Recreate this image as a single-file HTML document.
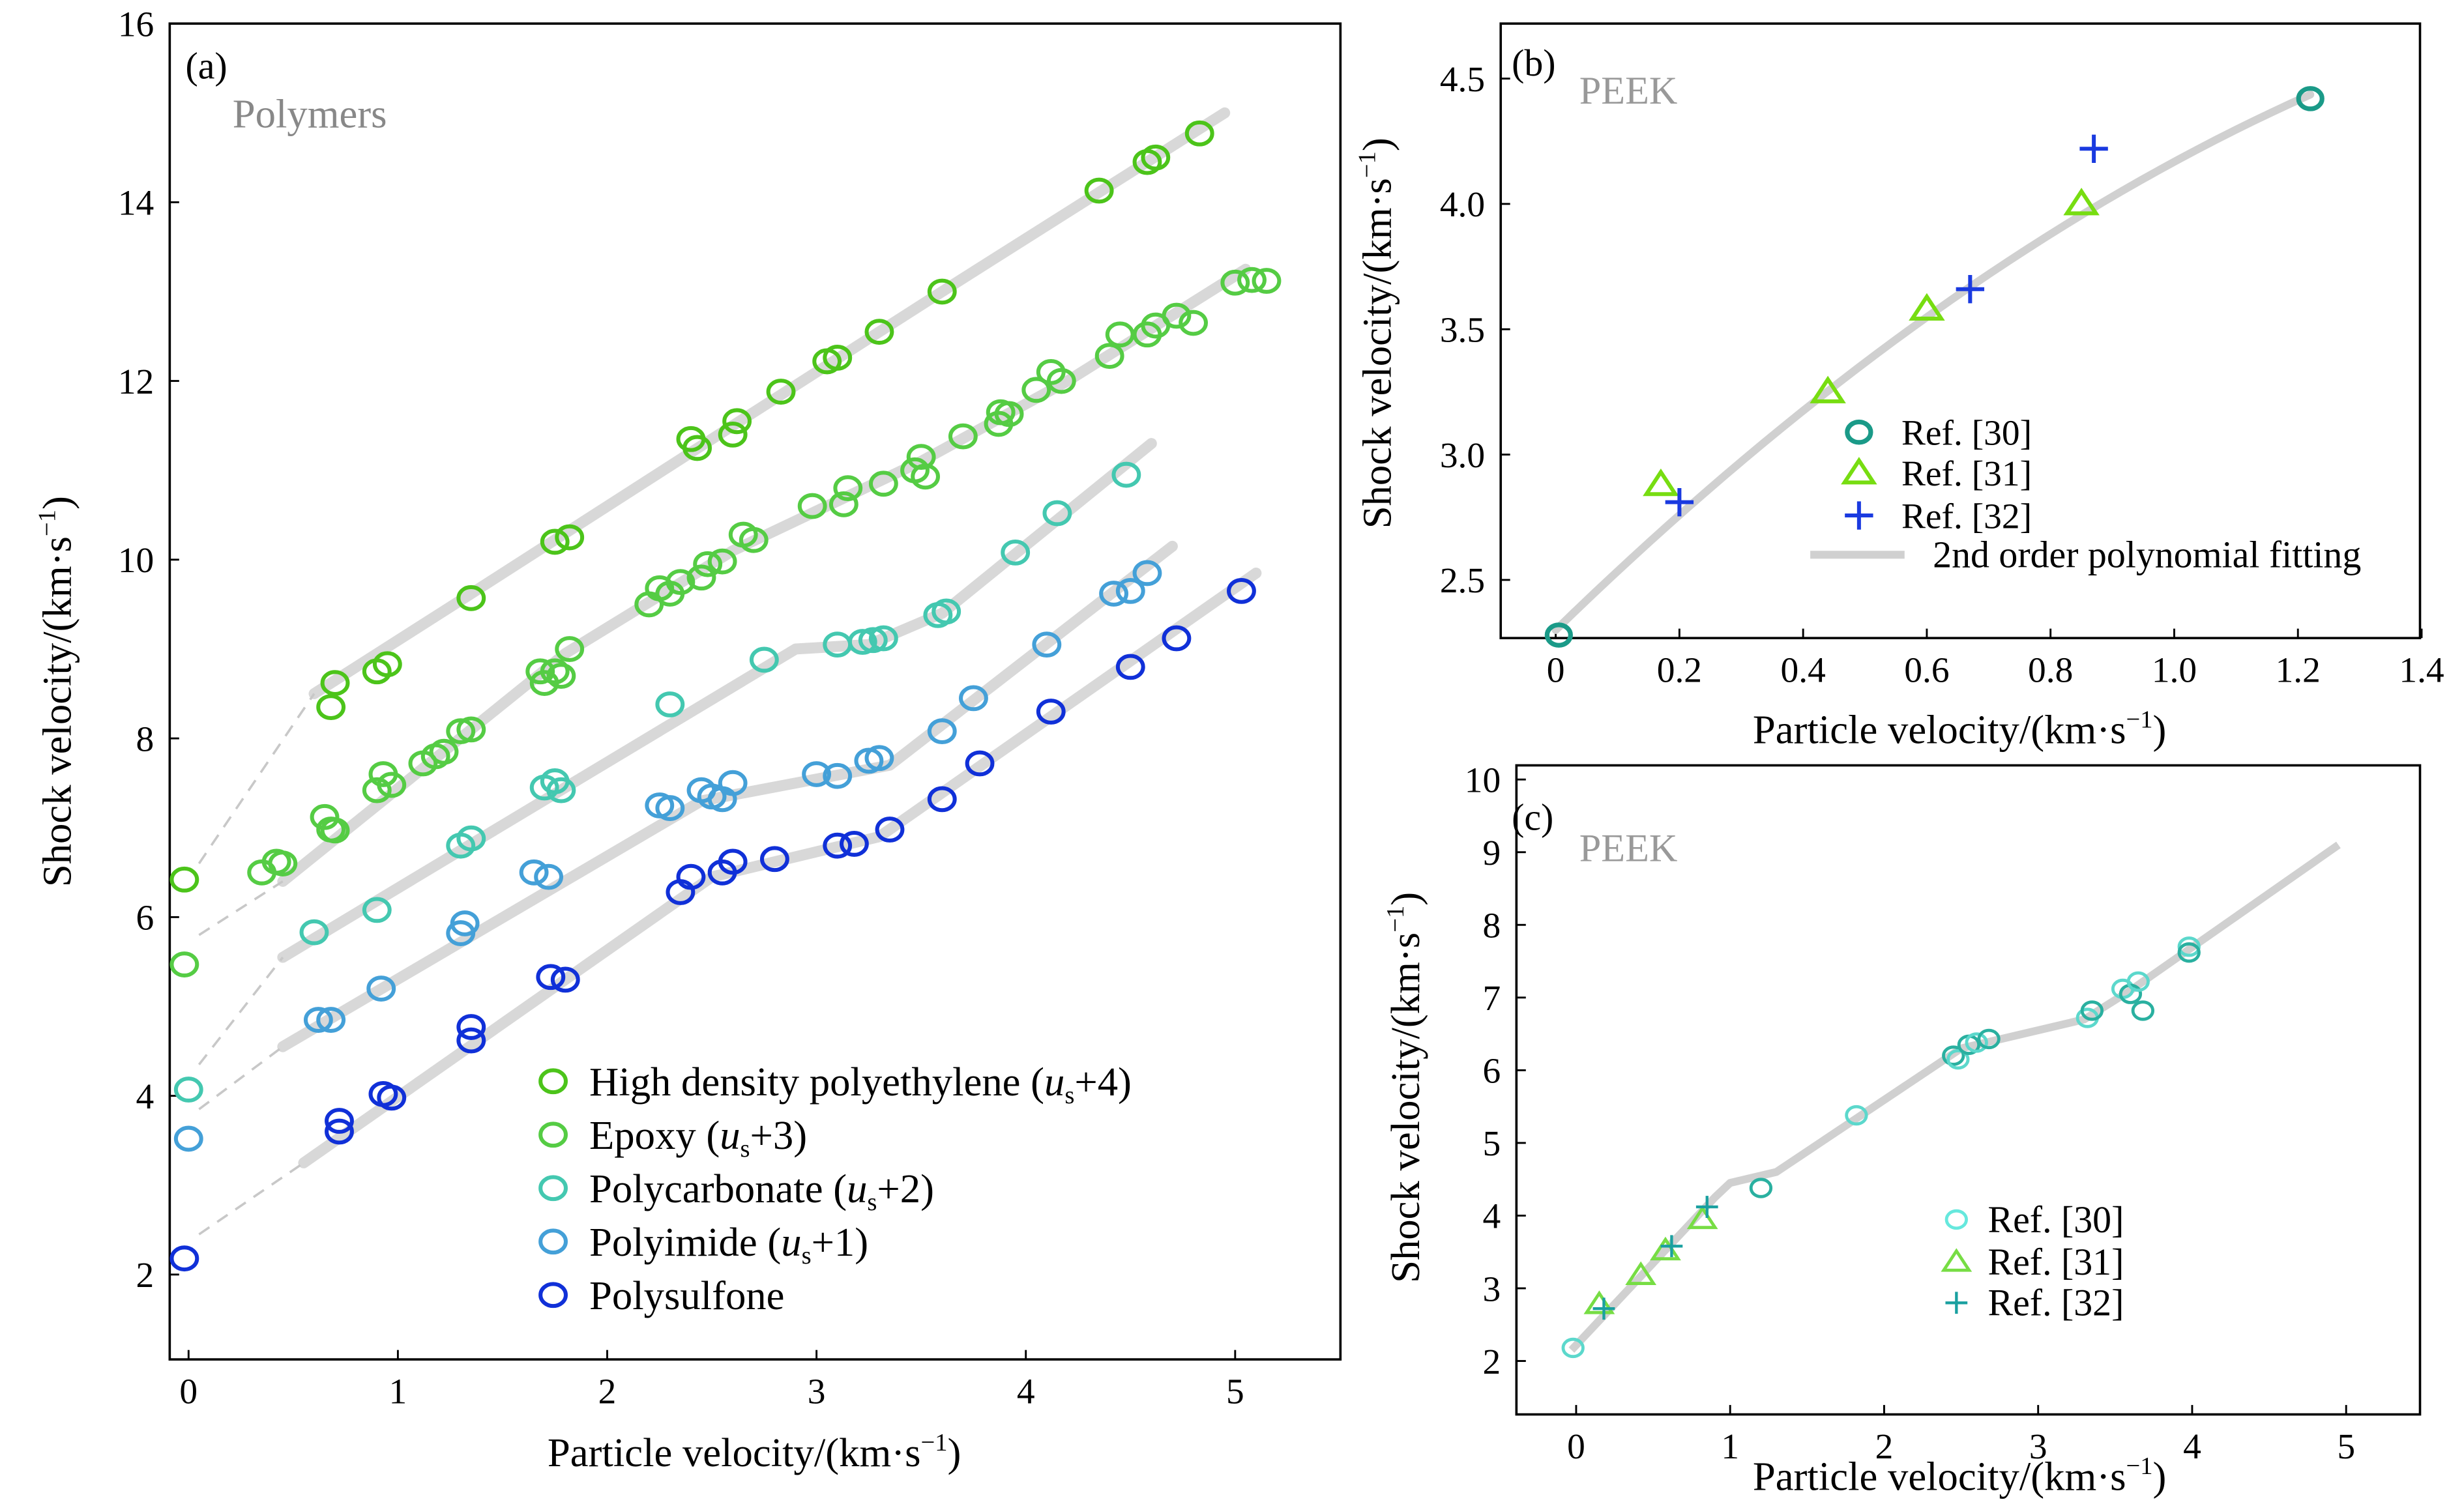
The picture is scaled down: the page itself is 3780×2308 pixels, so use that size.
<!DOCTYPE html>
<html><head><meta charset="utf-8"><style>html,body{margin:0;padding:0;background:#fff}svg{display:block}text{font-family:"Liberation Serif",serif}</style></head>
<body>
<svg id="chart" width="3780" height="2308" viewBox="0 0 1568 957" preserveAspectRatio="none" xmlns="http://www.w3.org/2000/svg">
<rect width="1568" height="957" fill="#fff"/>
</svg>
<script>
// ---------- Panel (a) data ----------
const aXTicks=[0,1,2,3,4,5];
const aYTicks=[2,4,6,8,10,12,14,16];
const hdpeX=[-0.02,0.68,0.7,0.9,0.95,1.35,1.75,1.82,2.4,2.43,2.6,2.62,2.83,3.05,3.1,3.3,3.6,4.35,4.58,4.62,4.83];
const hdpeY=[6.42,8.35,8.62,8.75,8.83,9.57,10.2,10.25,11.35,11.25,11.4,11.55,11.88,12.22,12.26,12.55,13.0,14.13,14.45,14.5,14.77];
const epoxyX=[-0.02,0.35,0.42,0.45,0.65,0.68,0.7,0.9,0.93,0.97,1.12,1.18,1.22,1.3,1.35,1.68,1.7,1.75,1.78,1.82,2.2,2.25,2.3,2.35,2.45,2.48,2.55,2.65,2.7,2.98,3.13,3.15,3.32,3.47,3.5,3.52,3.7,3.87,3.88,3.92,4.05,4.12,4.17,4.4,4.45,4.58,4.62,4.72,4.8,5.0,5.08,5.15];
const epoxyY=[5.47,6.5,6.62,6.6,7.12,6.98,6.97,7.42,7.6,7.48,7.72,7.8,7.85,8.08,8.1,8.75,8.62,8.75,8.7,9.0,9.5,9.68,9.62,9.75,9.8,9.95,9.98,10.28,10.22,10.6,10.62,10.8,10.85,11.0,11.15,10.93,11.38,11.52,11.65,11.63,11.9,12.1,12.0,12.28,12.52,12.52,12.62,12.73,12.65,13.1,13.13,13.12];
const pcX=[0,0.6,0.9,1.3,1.35,1.7,1.75,1.78,2.3,2.75,3.1,3.22,3.27,3.32,3.58,3.62,3.95,4.15,4.48];
const pcY=[4.07,5.83,6.08,6.8,6.88,7.45,7.52,7.42,8.38,8.88,9.05,9.08,9.1,9.12,9.38,9.42,10.08,10.52,10.95];
const piX=[0,0.62,0.68,0.92,1.3,1.32,1.65,1.72,2.25,2.3,2.45,2.5,2.55,2.6,3.0,3.1,3.25,3.3,3.6,3.75,4.1,4.42,4.5,4.58];
const piY=[3.52,4.85,4.85,5.2,5.82,5.93,6.5,6.45,7.25,7.22,7.42,7.35,7.32,7.5,7.6,7.58,7.75,7.78,8.08,8.45,9.05,9.62,9.65,9.85];
const psfX=[-0.02,0.72,0.72,0.93,0.97,1.35,1.35,1.73,1.8,2.35,2.4,2.55,2.6,2.8,3.1,3.18,3.35,3.6,3.78,4.12,4.5,4.72,5.03];
const psfY=[2.18,3.6,3.72,4.02,3.98,4.62,4.77,5.33,5.3,6.28,6.45,6.5,6.62,6.65,6.8,6.82,6.98,7.32,7.72,8.3,8.8,9.12,9.65];
const hdpeFitX=[0.6,1.35,2.5,3.6,4.95], hdpeFitY=[8.5,9.62,11.35,13.0,15.0];
const epoxyFitX=[0.45,1.8,2.6,3.5,4.2,5.05], epoxyFitY=[6.4,8.95,10.1,11.1,12.0,13.25];
const pcFitX=[0.45,2.9,3.25,3.6,4.6], pcFitY=[5.55,9.0,9.05,9.4,11.3];
const piFitX=[0.45,2.45,3.35,4.7], piFitY=[4.55,7.3,7.7,10.15];
const psfFitX=[0.55,2.5,3.3,5.1], psfFitY=[3.25,6.45,6.9,9.85];
const hdpeDashX=[0.05,0.6], hdpeDashY=[6.6,8.5];
const epoxyDashX=[0.05,0.45], epoxyDashY=[5.8,6.4];
const pcDashX=[0.05,0.45], pcDashY=[4.35,5.55];
const piDashX=[0.05,0.45], piDashY=[3.85,4.55];
const psfDashX=[0.05,0.55], psfDashY=[2.45,3.25];
// ---------- Panel (b) data ----------
const bXTicks=[0,0.2,0.4,0.6,0.8,1.0,1.2,1.4];
const bXLabels=["0","0.2","0.4","0.6","0.8","1.0","1.2","1.4"];
const bYTicks=[2.5,3.0,3.5,4.0,4.5];
const bYLabels=["2.5","3.0","3.5","4.0","4.5"];
const b30X=[0.005,1.22], b30Y=[2.28,4.42];
const b31X=[0.17,0.44,0.6,0.85], b31Y=[2.88,3.25,3.58,4.0];
const b32X=[0.2,0.67,0.87], b32Y=[2.81,3.66,4.22];
const bFitCoef=[2.3,2.4,-0.532];
const bFitRange=[0,1.22];
// ---------- Panel (c) data ----------
const cXTicks=[0,1,2,3,4,5];
const cYTicks=[2,3,4,5,6,7,8,9,10];
const c30X=[-0.02,1.2,1.82,2.45,2.48,2.55,2.6,2.68,3.32,3.35,3.55,3.6,3.65,3.68,3.98,3.98];
const c30Y=[2.18,4.38,5.38,6.2,6.15,6.35,6.38,6.43,6.72,6.82,7.12,7.05,7.22,6.82,7.7,7.62];
const c31X=[0.15,0.42,0.58,0.82], c31Y=[2.78,3.18,3.52,3.95];
const c32X=[0.18,0.62,0.85], c32Y=[2.72,3.58,4.12];
const cFitX=[-0.03,0.9,1.0,1.3,2.5,3.3,3.6,4.95];
const cFitY=[2.15,4.25,4.45,4.6,6.3,6.7,7.1,9.1];

const NS="http://www.w3.org/2000/svg";
const svg=document.getElementById('chart');
function mk(tag,attrs,parent){const e=document.createElementNS(NS,tag);for(const k in attrs)e.setAttribute(k,attrs[k]);(parent||svg).appendChild(e);return e;}
function txt(x,y,s,size,fill,anchor,parent){const t=mk('text',{x:x,y:y,'font-size':size,fill:fill||'#000','text-anchor':anchor||'middle'},parent);t.textContent=s;return t;}

function makeAxes(box,xs,ys,xTicks,xLabels,yTicks,yLabels,name){
  const g=mk('g',{});
  
  
  const r=mk('rect',{x:box.l,y:box.t,width:box.r-box.l,height:box.b-box.t,fill:'none',stroke:'#000','stroke-width':1.5},g);
  
  
  xTicks.forEach((v,i)=>{const x=xs(v);mk('line',{x1:x,x2:x,y1:box.b,y2:box.b-6,stroke:'#000','stroke-width':1.2},g);
    const t=txt(x,box.b+28,xLabels[i],23,'#000','middle',g);
    
    });
  yTicks.forEach((v,i)=>{const y=ys(v);mk('line',{x1:box.l,x2:box.l+6,y1:y,y2:y,stroke:'#000','stroke-width':1.2},g);
    const t=txt(box.l-10,y+8,yLabels[i],23,'#000','end',g);
    
    });
  return g;
}
function axisTitle(x,y,rot,name){
  const t=mk('text',{x:x,y:y,'font-size':26,'text-anchor':'middle',transform:rot?`rotate(-90 ${x} ${y})`:''});
  
  
  t.innerHTML=(rot?'Shock':'Particle')+' velocity/(km·s<tspan dy="-10" font-size="16">−1</tspan><tspan dy="10">)</tspan>';
}
function circle(x,y,col,r,sw,name,parent){const c=mk('ellipse',{cx:x,cy:y,rx:r*1.15,ry:r,fill:'none',stroke:col,'stroke-width':sw},parent);
  
  return c;}
function poly(xa,ya,xs,ys,attrs,name,parent){const p=mk('polyline',Object.assign({points:xa.map((v,i)=>xs(v)+','+ys(ya[i])).join(' '),fill:'none'},attrs),parent);
  
  return p;}

// ---------- Panel (a) ----------
const aBox={l:108,r:853,t:15,b:865};
const axX=v=>120+v*133.2, axY=v=>811-(v-2)*56.86;
makeAxes(aBox,axX,axY,aXTicks,aXTicks.map(String),aYTicks,aYTicks.map(String),'panel-a');
axisTitle(45,440,true,'panel-a-y-axis-title');
axisTitle(480,933,false,'panel-a-x-axis-title');
txt(118,50,'(a)',24,'#000','start');
txt(148,81,'Polymers',26,'#888','start');
const series=[
 {n:'hdpe',x:hdpeX,y:hdpeY,fx:hdpeFitX,fy:hdpeFitY,dx:hdpeDashX,dy:hdpeDashY,c:'#4cc41a',label:'High density polyethylene (',off:'+4'},
 {n:'epoxy',x:epoxyX,y:epoxyY,fx:epoxyFitX,fy:epoxyFitY,dx:epoxyDashX,dy:epoxyDashY,c:'#55cc44',label:'Epoxy (',off:'+3'},
 {n:'polycarbonate',x:pcX,y:pcY,fx:pcFitX,fy:pcFitY,dx:pcDashX,dy:pcDashY,c:'#44c8b0',label:'Polycarbonate (',off:'+2'},
 {n:'polyimide',x:piX,y:piY,fx:piFitX,fy:piFitY,dx:piDashX,dy:piDashY,c:'#44a0d8',label:'Polyimide (',off:'+1'},
 {n:'polysulfone',x:psfX,y:psfY,fx:psfFitX,fy:psfFitY,dx:psfDashX,dy:psfDashY,c:'#1030d8',label:'Polysulfone',off:null}
];
series.forEach(s=>{
  poly(s.fx,s.fy,axX,axY,{stroke:'#d8d8d8','stroke-width':7,'stroke-linejoin':'round','stroke-linecap':'round'},s.n+'-fit-line');
  poly(s.dx,s.dy,axX,axY,{stroke:'#c8c8c8','stroke-width':1.5,'stroke-dasharray':'8,6'},s.n+'-extrapolation');
});
series.forEach(s=>{const g=mk('g',{});
  
  
  s.x.forEach((v,i)=>circle(axX(v),axY(s.y[i]),s.c,7,2.5,s.n+'-point',g));});
series.forEach((s,i)=>{const y=688+i*34;
  const g=mk('g',{});
  
  
  circle(352,y,s.c,7,2.5,'legend-marker',g);
  const t=mk('text',{x:375,y:y+9,'font-size':26},g);
  t.innerHTML=s.off?s.label+'<tspan font-style="italic">u</tspan><tspan dy="5" font-size="16">s</tspan><tspan dy="-5">'+s.off+')</tspan>':s.label;});

// ---------- Panel (b) ----------
const bBox={l:955,r:1540,t:15,b:406};
const bxX=v=>990+v*393.6, bxY=v=>369-(v-2.5)*159.5;
makeAxes(bBox,bxX,bxY,bXTicks,bXLabels,bYTicks,bYLabels,'panel-b');
axisTitle(885,212,true,'panel-b-y-axis-title');
axisTitle(1247,473,false,'panel-b-x-axis-title');
txt(962,48,'(b)',24,'#000','start');
txt(1005,66,'PEEK',25,'#999','start');
const fx=[],fy=[];for(let i=0;i<=40;i++){const x=bFitRange[0]+(bFitRange[1]-bFitRange[0])*i/40;fx.push(x);fy.push(bFitCoef[0]+bFitCoef[1]*x+bFitCoef[2]*x*x);}
poly(fx,fy,bxX,bxY,{stroke:'#d0d0d0','stroke-width':5,'stroke-linecap':'round'},'panel-b-fit-curve');
function tri(x,y,col,s,sw,name,parent){const p=mk('polygon',{points:`${x},${y-s} ${x-s*1.15},${y+s*0.75} ${x+s*1.15},${y+s*0.75}`,fill:'none',stroke:col,'stroke-width':sw},parent);
  
  }
function plus(x,y,col,s,sw,name,parent){const p=mk('path',{d:`M${x-s},${y}H${x+s}M${x},${y-s}V${y+s}`,stroke:col,'stroke-width':sw},parent);
  
  }
b30X.forEach((v,i)=>circle(bxX(v),bxY(b30Y[i]),'#1a9a88',6.5,3,'ref30-point'));
b31X.forEach((v,i)=>tri(bxX(v),bxY(b31Y[i]),'#77dd11',8,2.5,'ref31-point'));
b32X.forEach((v,i)=>plus(bxX(v),bxY(b32Y[i]),'#1a3ae0',9,2.5,'ref32-point'));
[['Ref. [30]',275],['Ref. [31]',301],['Ref. [32]',328]].forEach((e,i)=>{
  if(i==0)circle(1183,e[1],'#1a9a88',6.5,3,'legend-marker');
  if(i==1)tri(1183,e[1],'#77dd11',8,2.5,'legend-marker');
  if(i==2)plus(1183,e[1],'#1a3ae0',9,2.5,'legend-marker');
  txt(1210,e[1]+8,e[0],23,'#000','start');});
const fl=mk('line',{x1:1152,x2:1212,y1:353,y2:353,stroke:'#d0d0d0','stroke-width':5});

txt(1230,361,'2nd order polynomial fitting',24,'#000','start');

// ---------- Panel (c) ----------
const cBox={l:965,r:1540,t:487,b:900};
const cxX=v=>1003+v*98, cxY=v=>866-(v-2)*46.25;
makeAxes(cBox,cxX,cxY,cXTicks,cXTicks.map(String),cYTicks,cYTicks.map(String),'panel-c');
axisTitle(903,692,true,'panel-c-y-axis-title');
axisTitle(1247,948,false,'panel-c-x-axis-title');
txt(962,528,'(c)',24,'#000','start');
txt(1005,548,'PEEK',25,'#999','start');
poly(cFitX,cFitY,cxX,cxY,{stroke:'#d0d0d0','stroke-width':5,'stroke-linejoin':'round'},'panel-c-fit-line');
c30X.forEach((v,i)=>circle(cxX(v),cxY(c30Y[i]),i%2?'#2ab0a0':'#5cd8cc',5.5,2,'ref30-point'));
c31X.forEach((v,i)=>tri(cxX(v),cxY(c31Y[i]),'#77dd44',7,2,'ref31-point'));
c32X.forEach((v,i)=>plus(cxX(v),cxY(c32Y[i]),'#1aa0a0',7,1.8,'ref32-point'));
[['Ref. [30]',776],['Ref. [31]',803],['Ref. [32]',829]].forEach((e,i)=>{
  if(i==0)circle(1245,e[1],'#66e8dd',5.5,2,'legend-marker');
  if(i==1)tri(1245,e[1],'#77dd44',7,2,'legend-marker');
  if(i==2)plus(1245,e[1],'#1aa0a0',7,1.8,'legend-marker');
  txt(1265,e[1]+8,e[0],24,'#000','start');});
</script>
</body></html>
